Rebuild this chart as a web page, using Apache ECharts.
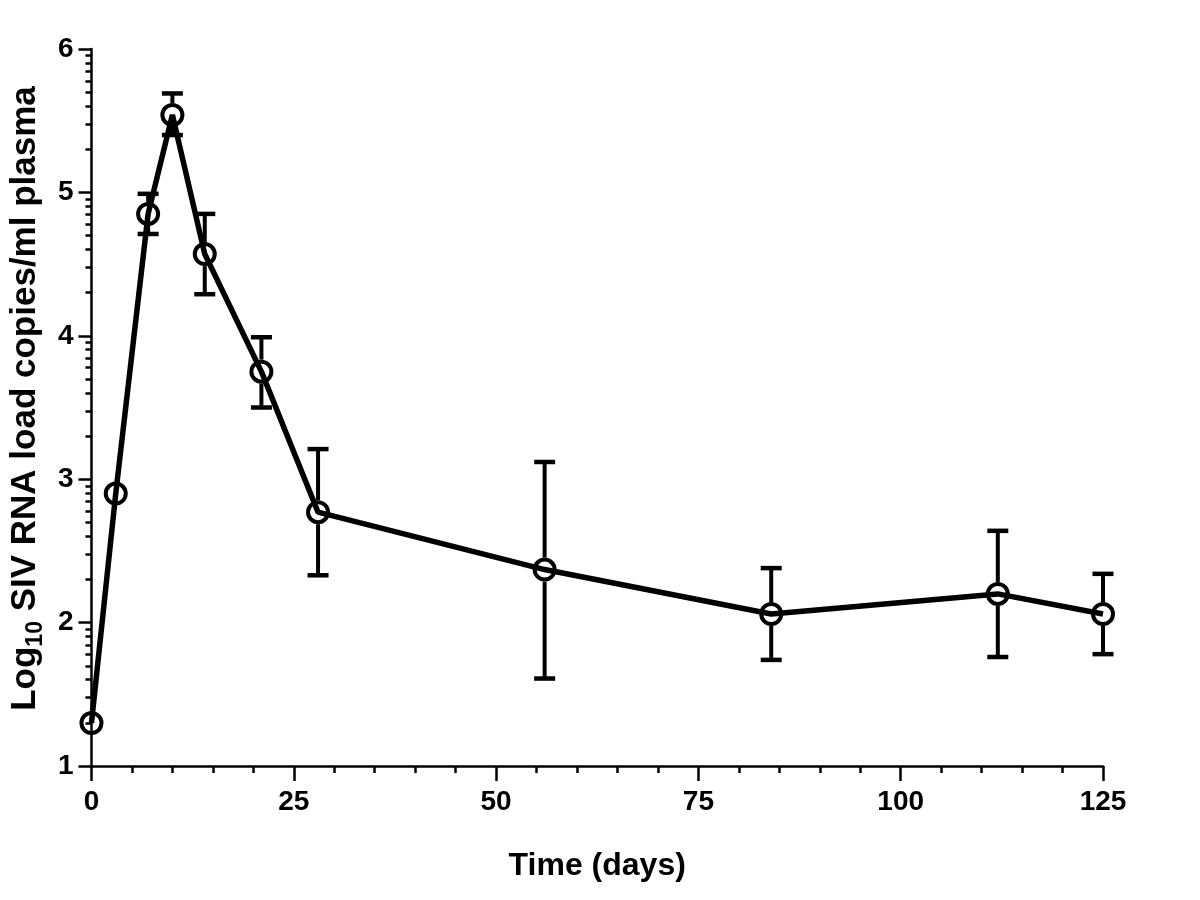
<!DOCTYPE html>
<html>
<head>
<meta charset="utf-8">
<script src="https://cdn.jsdelivr.net/npm/echarts@6/dist/echarts.min.js"></script>
<style>
  html, body { margin: 0; padding: 0; background: #fff; }
  #chart { width: 1200px; height: 900px; }
</style>
</head>
<body>
<div id="chart"></div>
<script>
// ---- data ----
const days = [0, 3, 7, 10, 14, 21, 28, 56, 84, 112, 125];
const meanLog = [1.30, 2.90, 4.85, 5.54, 4.57, 3.75, 2.77, 2.37, 2.06, 2.20, 2.06];
const upperLog = [null, null, 4.99, 5.69, 4.85, 3.99, 3.21, 3.12, 2.38, 2.64, 2.34];
const lowerLog = [null, null, 4.71, 5.40, 4.29, 3.50, 2.33, 1.61, 1.74, 1.76, 1.78];
const xTickValues = [0, 25, 50, 75, 100, 125];
const yTickValues = [1, 2, 3, 4, 5, 6];
const minorMultipliers = [2, 3, 4, 5, 6, 7, 8, 9];
const xTitle = 'Time (days)';
const yTitleParts = ['Log', '10', ' SIV RNA load copies/ml plasma'];

// minor y ticks are log-spaced inside each decade
const yMinorTicks = [];
yTickValues.slice(0, -1).forEach(d => minorMultipliers.forEach(m => yMinorTicks.push(d + Math.log10(m))));

const FONT = '"Liberation Sans", Arial, Helvetica, sans-serif';
const lineData = days.map((d, i) => [d, meanLog[i]]);
const errData = [];
days.forEach((d, i) => { if (upperLog[i] != null) errData.push([d, meanLog[i], lowerLog[i], upperLog[i]]); });

const chart = echarts.init(document.getElementById('chart'), null, { renderer: 'canvas' });
chart.setOption({
  animation: false,
  backgroundColor: '#fff',
  grid: { left: 91, right: 97, top: 49, bottom: 134, containLabel: false },
  xAxis: {
    type: 'value',
    min: xTickValues[0], max: xTickValues[xTickValues.length - 1], interval: xTickValues[1] - xTickValues[0],
    name: xTitle, nameLocation: 'middle', nameGap: 84,
    nameTextStyle: { fontFamily: FONT, fontWeight: 'bold', fontSize: 32, color: '#000' },
    axisLine: { onZero: false, lineStyle: { color: '#000', width: 2.5 } },
    axisTick: { length: 15, lineStyle: { color: '#000', width: 2.5 } },
    minorTick: { show: true, splitNumber: 5, length: 7, lineStyle: { color: '#000', width: 2.5 } },
    splitLine: { show: false },
    axisLabel: { fontFamily: FONT, fontWeight: 'bold', fontSize: 28, color: '#000', margin: 22 }
  },
  yAxis: [{
    type: 'value',
    min: yTickValues[0], max: yTickValues[yTickValues.length - 1], interval: 1,
    name: yTitleParts.map((p, i) => i === 1 ? '{b|' + p + '}' : '{a|' + p + '}').join(''),
    nameLocation: 'middle', nameGap: 40, nameRotate: 90,
    nameTextStyle: {
      padding: [0, 0, 0, 18],
      rich: {
        a: { fontFamily: FONT, fontWeight: 'bold', fontSize: 35, color: '#000' },
        b: { fontFamily: FONT, fontWeight: 'bold', fontSize: 23, color: '#000', padding: [20, 0, 0, 0] }
      }
    },
    axisLine: { onZero: false, lineStyle: { color: '#000', width: 2.5 } },
    axisTick: { length: 13, lineStyle: { color: '#000', width: 2.5 } },
    splitLine: { show: false },
    axisLabel: { fontFamily: FONT, fontWeight: 'bold', fontSize: 28, color: '#000', margin: 18 }
  }, {
    type: 'value',
    position: 'left',
    min: yTickValues[0], max: yTickValues[yTickValues.length - 1],
    axisLine: { show: false, onZero: false },
    axisLabel: { show: false },
    splitLine: { show: false },
    axisTick: { show: true, customValues: yMinorTicks, length: 6, lineStyle: { color: '#000', width: 2.5 } }
  }],
  series: [{
    type: 'line',
    data: lineData,
    symbol: 'circle',
    symbolSize: 20,
    lineStyle: { color: '#000', width: 5.5 },
    itemStyle: { color: 'rgba(255,255,255,0)', borderColor: '#000', borderWidth: 4 },
    z: 3
  }, {
    type: 'custom',
    data: errData,
    z: 4,
    renderItem: function (params, api) {
      const x = api.value(0);
      const c = api.coord([x, api.value(1)]);
      const lo = api.coord([x, api.value(2)]);
      const hi = api.coord([x, api.value(3)]);
      const gap = 12, cap = 10.5;
      const st = { stroke: '#000', lineWidth: 4 };
      return {
        type: 'group',
        children: [
          { type: 'line', shape: { x1: c[0], y1: c[1] - gap, x2: c[0], y2: hi[1] }, style: st },
          { type: 'line', shape: { x1: c[0], y1: c[1] + gap, x2: c[0], y2: lo[1] }, style: st },
          { type: 'line', shape: { x1: c[0] - cap, y1: hi[1], x2: c[0] + cap, y2: hi[1] }, style: { stroke: '#000', lineWidth: 4.5 } },
          { type: 'line', shape: { x1: c[0] - cap, y1: lo[1], x2: c[0] + cap, y2: lo[1] }, style: { stroke: '#000', lineWidth: 4.5 } }
        ]
      };
    }
  }]
});
</script>
</body>
</html>
